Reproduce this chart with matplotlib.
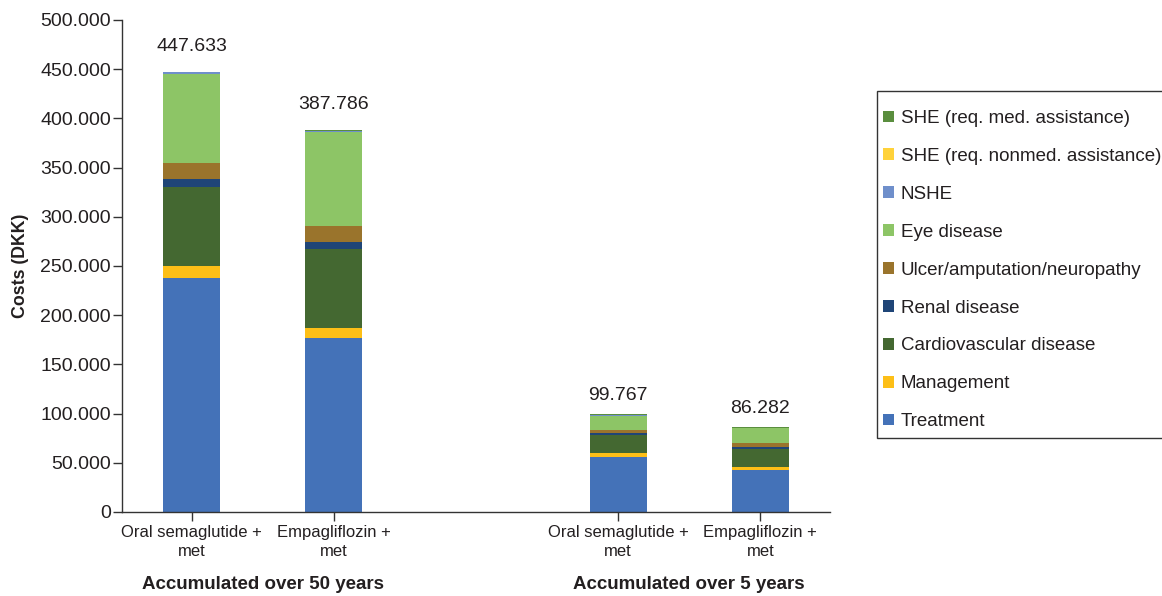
import matplotlib
matplotlib.use("Agg")
import matplotlib.pyplot as plt
from matplotlib.patches import Patch, Rectangle
from matplotlib.ticker import FuncFormatter
import numpy as np

plt.rcParams['font.family'] = ['Liberation Sans', 'DejaVu Sans']

# ---- data ----
categories = ["Oral semaglutide +\nmet", "Empagliflozin +\nmet",
              "Oral semaglutide +\nmet", "Empagliflozin +\nmet"]
groups = ["Accumulated over 50 years", "Accumulated over 5 years"]
totals = ["447.633", "387.786", "99.767", "86.282"]

components = ["Treatment", "Management", "Cardiovascular disease", "Renal disease",
              "Ulcer/amputation/neuropathy", "Eye disease", "NSHE",
              "SHE (req. nonmed. assistance)", "SHE (req. med. assistance)"]
treatment = [238000, 177000, 56000, 43000]
management = [12000, 10000, 4000, 3000]
cardiovascular = [80000, 80000, 18000, 18000]
renal = [8000, 7500, 2000, 2000]
ulcer = [16500, 16000, 3800, 4000]
eye = [91000, 96000, 13700, 15000]
nshe = [1300, 300, 1100, 300]
she_nonmed = [100, 100, 100, 100]
she_med = [733, 886, 1067, 882]

series = [treatment, management, cardiovascular, renal, ulcer, eye, nshe, she_nonmed, she_med]
colors = ["#4472b8", "#fdbf17", "#446831", "#1f4577", "#9a742c", "#8dc566",
          "#6f8fcb", "#ffd23a", "#5a8e3e"]

positions = np.array([0, 1, 3, 4])
bar_width = 0.4
label_offsets_px = [17, 17, 10, 10]

W, H = 1162, 596
fig = plt.figure(figsize=(W / 100, H / 100), dpi=100)
ax = fig.add_axes([122 / W, (H - 512) / H, (830 - 122) / W, (512 - 20) / H])

text_color = "#231f20"
bottom = np.zeros(len(positions))
for vals, col in zip(series, colors):
    ax.bar(positions, vals, bar_width, bottom=bottom, color=col, linewidth=0)
    bottom += np.array(vals)

for x, top, lab, off in zip(positions, bottom, totals, label_offsets_px):
    ax.annotate(lab, (x, top), xytext=(0, off * 0.72), textcoords="offset points",
                ha="center", va="bottom", fontsize=14, color=text_color)

ax.set_xlim(-0.49, 4.49)
ax.set_ylim(0, 500000)
ax.set_yticks(np.arange(0, 500001, 50000))
ax.yaxis.set_major_formatter(FuncFormatter(lambda v, p: "0" if v == 0 else f"{int(v):,}".replace(",", ".")))
ax.set_xticks(positions)
ax.set_xticklabels(categories, fontsize=12, color=text_color, linespacing=1.35)
ax.tick_params(axis="y", labelsize=14, labelcolor=text_color, length=6.5, width=1, color="#333333", pad=1.5)
ax.tick_params(axis="x", length=6.5, width=1, color="#333333", pad=3)

for s in ["top", "right"]:
    ax.spines[s].set_visible(False)
for s in ["left", "bottom"]:
    ax.spines[s].set_color("#333333")
    ax.spines[s].set_linewidth(1)

ax.set_ylabel("Costs (DKK)", fontsize=12.8, fontweight="bold", color=text_color, labelpad=8)

for gi, g in enumerate(groups):
    xc = positions[2 * gi: 2 * gi + 2].mean()
    ax.text(xc, -0.148, g, transform=ax.get_xaxis_transform(), ha="center", va="center",
            fontsize=13.5, fontweight="bold", color=text_color)

# legend frame (extends past the right edge, as in the reference)
fig.patches.append(Rectangle((877 / W, 1 - 438 / H), 300 / W, (438 - 91) / H,
                             transform=fig.transFigure, facecolor="white",
                             edgecolor="#333333", linewidth=1, zorder=1))

handles = [Patch(facecolor=c, edgecolor="none") for c in colors][::-1]
leg = fig.legend(handles, components[::-1], loc="upper left",
                 bbox_to_anchor=(883 / W, 1 - 110 / H), frameon=False,
                 fontsize=13.5, labelspacing=1.115, handlelength=0.58, handleheight=0.58,
                 handletextpad=0.37, borderpad=0, borderaxespad=0)
leg.set_zorder(2)
for t in leg.get_texts():
    t.set_color(text_color)

fig.savefig("out.png", dpi=100)
